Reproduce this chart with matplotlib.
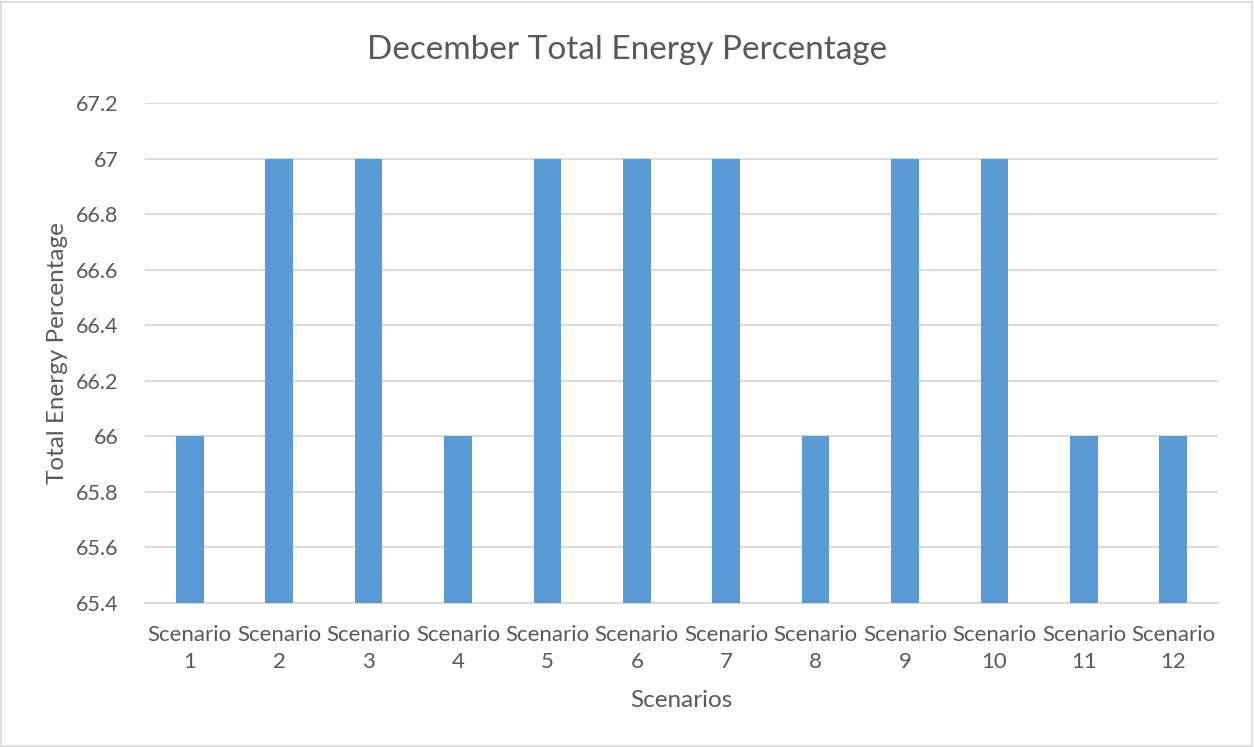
import matplotlib
matplotlib.use("Agg")
import matplotlib.pyplot as plt
from matplotlib.patches import Rectangle

categories = [f"Scenario\n{i}" for i in range(1, 13)]
values = [66, 67, 67, 66, 67, 67, 67, 66, 67, 67, 66, 66]
y_ticks = [65.4, 65.6, 65.8, 66.0, 66.2, 66.4, 66.6, 66.8, 67.0, 67.2]
y_tick_labels = ["65.4", "65.6", "65.8", "66", "66.2", "66.4", "66.6", "66.8", "67", "67.2"]

plt.rcParams["font.family"] = ["Lato", "DejaVu Sans"]
text_color = "#595959"
grid_color = "#D9D9D9"
bar_color = "#5B9BD5"

W, H = 1254, 747
fig = plt.figure(figsize=(W / 100, H / 100), dpi=100)
fig.patch.set_facecolor("white")

# plot area in pixel coordinates
left, right, top, bottom = 145, 1218, 103, 603
ax = fig.add_axes([left / W, 1 - bottom / H, (right - left) / W, (bottom - top) / H])

x = list(range(len(categories)))
ax.bar(x, [v - 65.4 for v in values], bottom=65.4, width=0.31, color=bar_color, zorder=3)

ax.set_xlim(-0.5, len(categories) - 0.5)
ax.set_ylim(65.4, 67.2)
ax.set_yticks(y_ticks)
ax.set_yticklabels(y_tick_labels, fontsize=15.5)
ax.set_xticks(x)
ax.set_xticklabels(categories, linespacing=1.45, fontsize=16)
ax.tick_params(axis="both", length=0, colors=text_color)
ax.tick_params(axis="x", pad=16)
ax.tick_params(axis="y", pad=19)
ax.yaxis.grid(True, color=grid_color, linewidth=1.3, zorder=0)
for side in ["top", "right", "left"]:
    ax.spines[side].set_visible(False)
ax.spines["bottom"].set_color(grid_color)
ax.spines["bottom"].set_linewidth(1.3)

ax.set_xlabel("Scenarios", fontsize=17.5, color=text_color, labelpad=13)
ax.set_ylabel("Total Energy Percentage", fontsize=17.5, color=text_color, labelpad=6)

fig.text(0.5, 1 - 50 / H, "December Total Energy Percentage", ha="center", va="center",
         fontsize=24, color=text_color)

# chart border
fig.add_artist(Rectangle((1 / W, 1 / H), (W - 3) / W, (H - 3) / H, transform=fig.transFigure,
                         fill=False, edgecolor="#D9D9D9", linewidth=1.2))

fig.savefig("out.png", dpi=100)
